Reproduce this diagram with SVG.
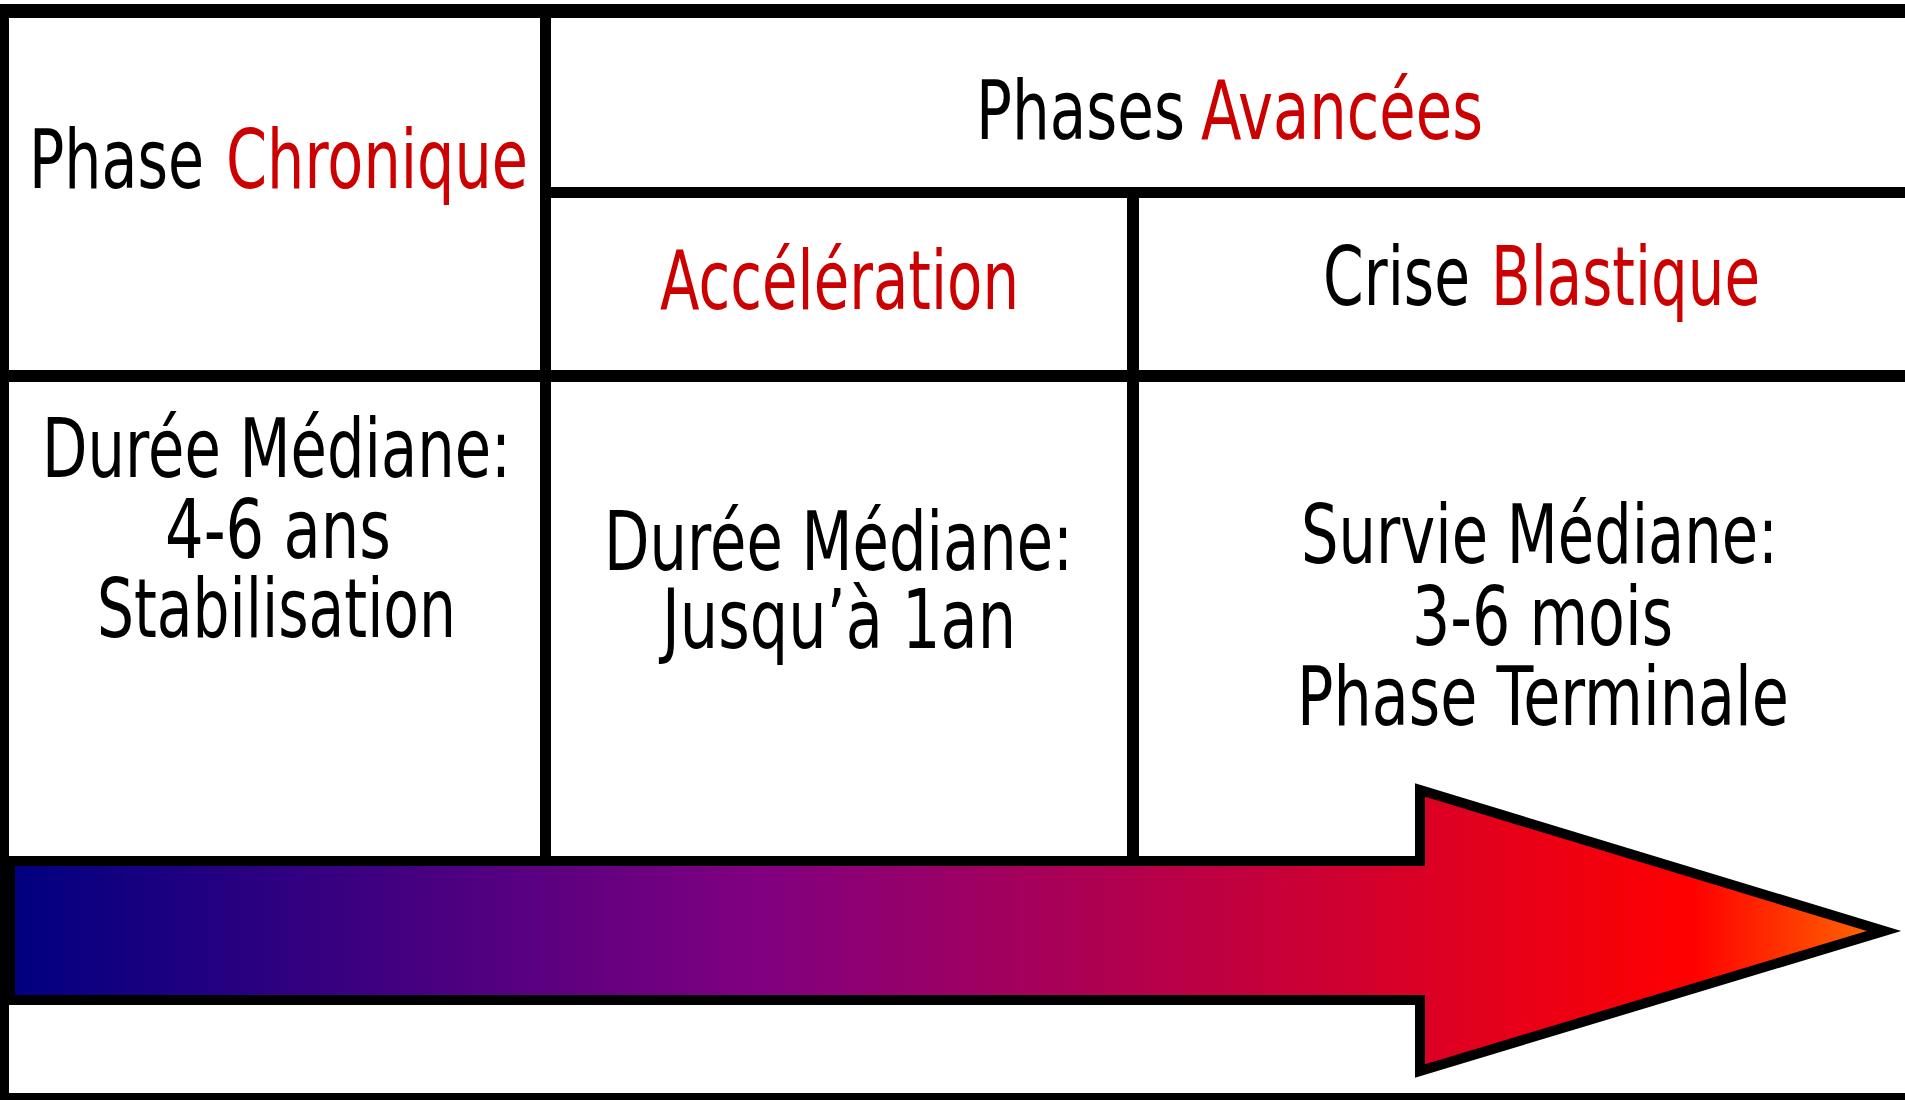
<svg xmlns="http://www.w3.org/2000/svg" width="1905" height="1100" viewBox="0 0 1905 1100">
  <style>
    .t { font-family: "DejaVu Sans", "Liberation Sans", sans-serif; font-size: 82px; fill: #000000; }
    .r { fill: #cc0000; }
    .ln { fill: #000000; }
  </style>
  <defs>
    <linearGradient id="arrowGrad" gradientUnits="userSpaceOnUse" x1="10" y1="0" x2="1880" y2="0">
      <stop offset="0" stop-color="#000080"/>
      <stop offset="0.40" stop-color="#800080"/>
      <stop offset="0.90" stop-color="#ff0000"/>
      <stop offset="1" stop-color="#ff6a00"/>
    </linearGradient>
  </defs>
  <rect x="0" y="0" width="1905" height="1100" fill="#ffffff"/>

  <g id="grid">
    <rect class="ln" x="0" y="4" width="1905" height="14"/>
    <rect class="ln" x="0" y="4" width="9" height="1096"/>
    <rect class="ln" x="540" y="4" width="11" height="858"/>
    <rect class="ln" x="540" y="187" width="1365" height="11"/>
    <rect class="ln" x="1127" y="187" width="12" height="675"/>
    <rect class="ln" x="0" y="370" width="1905" height="12"/>
    <rect class="ln" x="0" y="1093" width="1905" height="7"/>
  </g>

  <g id="connectors">
    <polygon id="timeline-arrow" points="10,861 1420,861 1420,790 1884,931 1420,1071 1420,1000 10,1000" fill="url(#arrowGrad)" stroke="#000000" stroke-width="10" stroke-linejoin="miter" stroke-miterlimit="10"/>
  </g>

  <g id="phase-chronique">
    <text class="t" x="29" y="188" textLength="175" lengthAdjust="spacingAndGlyphs">Phase</text>
    <text class="t r" x="226" y="188" textLength="302" lengthAdjust="spacingAndGlyphs">Chronique</text>
  </g>

  <g id="phases-avancees">
    <text class="t" x="976" y="139" textLength="209" lengthAdjust="spacingAndGlyphs">Phases</text>
    <text class="t r" x="1201" y="139" textLength="282" lengthAdjust="spacingAndGlyphs">Avancées</text>
  </g>

  <g id="acceleration">
    <text class="t r" x="660" y="309" textLength="359" lengthAdjust="spacingAndGlyphs">Accélération</text>
  </g>

  <g id="crise-blastique">
    <text class="t" x="1323" y="305" textLength="147" lengthAdjust="spacingAndGlyphs">Crise</text>
    <text class="t r" x="1491" y="305" textLength="269" lengthAdjust="spacingAndGlyphs">Blastique</text>
  </g>

  <g id="chronique-details">
    <text class="t" x="42" y="477" textLength="469" lengthAdjust="spacingAndGlyphs">Durée Médiane:</text>
    <text class="t" x="165" y="558" textLength="226" lengthAdjust="spacingAndGlyphs">4-6 ans</text>
    <text class="t" x="97" y="637" textLength="359" lengthAdjust="spacingAndGlyphs">Stabilisation</text>
  </g>

  <g id="acceleration-details">
    <text class="t" x="604" y="570" textLength="469" lengthAdjust="spacingAndGlyphs">Durée Médiane:</text>
    <text class="t" x="662" y="648" textLength="354" lengthAdjust="spacingAndGlyphs">Jusqu’à 1an</text>
  </g>

  <g id="blastique-details">
    <text class="t" x="1301" y="563" textLength="477" lengthAdjust="spacingAndGlyphs">Survie Médiane:</text>
    <text class="t" x="1412" y="645" textLength="261" lengthAdjust="spacingAndGlyphs">3-6 mois</text>
    <text class="t" x="1297" y="725" textLength="492" lengthAdjust="spacingAndGlyphs">Phase Terminale</text>
  </g>
</svg>
